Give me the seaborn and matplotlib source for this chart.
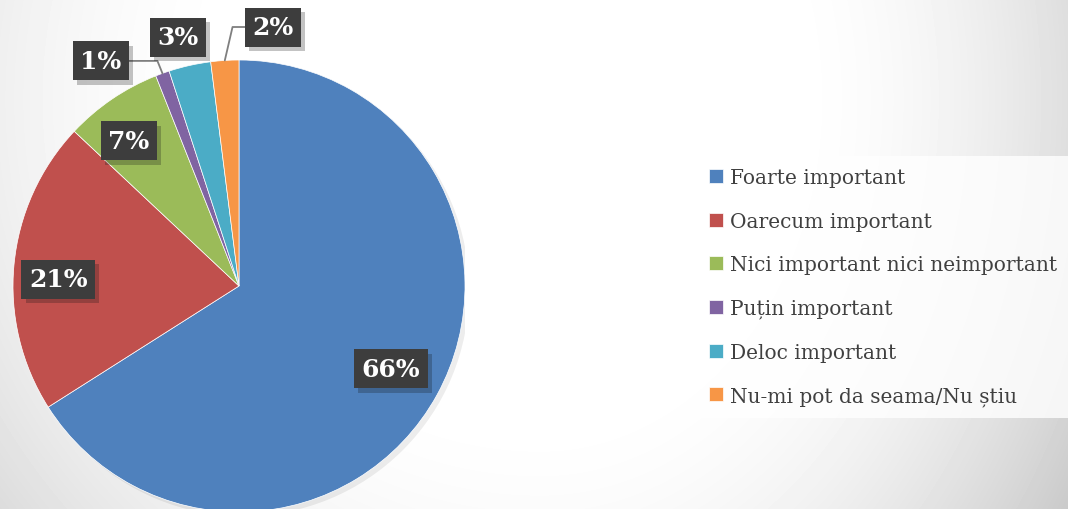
import numpy as np
import seaborn as sns
from matplotlib import pyplot as plt
from matplotlib import patheffects as pe

categorii = ["Foarte important", "Oarecum important", "Nici important nici neimportant",
             "Puțin important", "Deloc important", "Nu-mi pot da seama/Nu știu"]
procente = [66, 21, 7, 1, 3, 2]
culori = ["#4F81BD", "#C0504D", "#9BBB59", "#8064A2", "#4BACC6", "#F79646"]

# pozitia etichetelor (fractiuni din raza) si linii de legatura
pozitii_etichete = [(0.673, -0.367), (-0.80, 0.03), (-0.487, 0.642),
                    (-0.611, 0.996), (-0.27, 1.10), (0.150, 1.146)]
unghi_linie = [None, None, None, 112, None, 77]

sns.set_theme(style="white")
plt.rcParams['font.family'] = ['DejaVu Serif']

fig = plt.figure(figsize=(10.68, 5.1), dpi=100)

# fundal cu gradient
bg = fig.add_axes([0, 0, 1, 1])
yy, xx = np.mgrid[0:510, 0:1068]
dx = np.where(xx > 540, (xx - 540) * 1.25, xx - 540)
d = np.sqrt(dx ** 2 + (yy - 100) ** 2)
v = 1 - 3.16e-6 * np.clip(d - 300, 0, None) ** 1.8
bg.imshow(np.clip(v, 0.78, 1), cmap="gray", vmin=0, vmax=1, aspect="auto")
bg.axis("off")

ax = fig.add_axes([13 / 1068, -3 / 510, 452 / 1068, 452 / 510])
ax.set_facecolor("none")

umbra = plt.Circle((0, 0), 1, fc="white", ec="none", zorder=0)
umbra.set_path_effects([pe.SimplePatchShadow(offset=(3, -3), alpha=0.07, shadow_rgbFace="black"),
                        pe.Normal()])
ax.add_patch(umbra)

felii, _ = ax.pie(procente, colors=culori, startangle=90, counterclock=False,
                  radius=1, wedgeprops=dict(edgecolor="white", linewidth=0.5))
ax.set_xlim(-1, 1)
ax.set_ylim(-1, 1)
ax.axis("off")

for felie, p, poz, ung in zip(felii, procente, pozitii_etichete, unghi_linie):
    mijloc = np.deg2rad((felie.theta1 + felie.theta2) / 2)
    margine = (np.cos(mijloc), np.sin(mijloc))
    kw = dict(ha="center", va="center", fontsize=18, fontweight="bold", color="white",
              bbox=dict(boxstyle="square,pad=0.3", fc="#3d3d3d", ec="none"),
              zorder=5, annotation_clip=False)
    if ung is not None:
        kw["arrowprops"] = dict(arrowstyle="-", color="#7f7f7f", lw=1.3, shrinkA=0, shrinkB=0,
                                connectionstyle=f"angle,angleA=0,angleB={ung},rad=0")
    t = ax.annotate(f"{p}%", xy=margine, xytext=poz, **kw)
    t.get_bbox_patch().set_path_effects([pe.SimplePatchShadow(offset=(3, -3), alpha=0.25),
                                         pe.Normal()])

leg = fig.legend(felii, categorii, loc="upper left", bbox_to_anchor=(697 / 1068, 1 - 157 / 510),
                 borderaxespad=0, frameon=True, fontsize=14.5, handlelength=0.7,
                 handleheight=0.7, handletextpad=0.35, labelspacing=1.22, borderpad=0.6,
                 fancybox=False, labelcolor="#404040")
leg.get_frame().set_facecolor((1, 1, 1, 0.55))
leg.get_frame().set_edgecolor("none")

fig.savefig("out.png", dpi=100)
